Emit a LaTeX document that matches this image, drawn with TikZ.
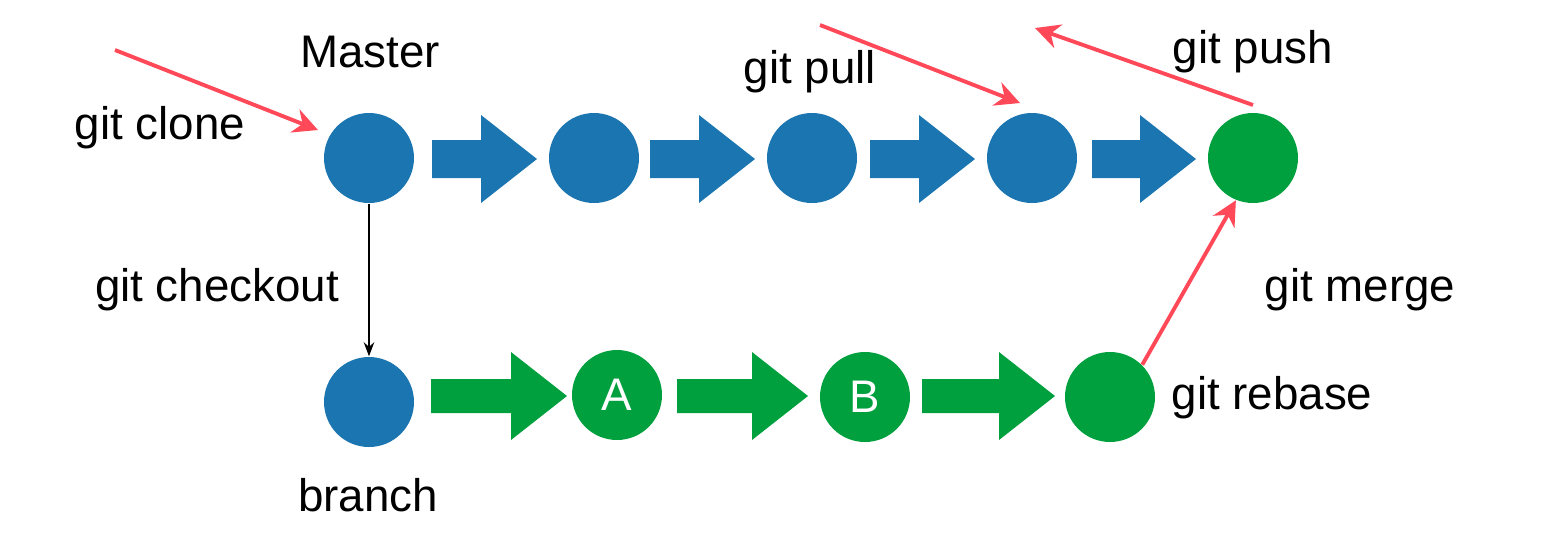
\documentclass[tikz,border=0pt]{standalone}
\usepackage{fontspec}
\setmainfont{Liberation Sans}
\usetikzlibrary{arrows.meta}
\definecolor{gblue}{RGB}{27,117,176}
\definecolor{ggreen}{RGB}{0,160,62}
\definecolor{gred}{RGB}{255,72,88}

% block arrow: x start, x end, y, colour, shaft half height
\newcommand{\blockarrow}[5]{%
  \fill[#4] (#1,#3-#5) -- (#2-0.56,#3-#5) -- (#2-0.56,#3-0.44) -- (#2,#3)
    -- (#2-0.56,#3+0.44) -- (#2-0.56,#3+#5) -- (#1,#3+#5) -- cycle;}

\begin{document}
\begin{tikzpicture}[
  commit/.style={circle,minimum size=0.9cm,inner sep=0pt,text=white,font=\fontsize{13}{15}\selectfont},
  lbl/.style={font=\fontsize{13}{15}\selectfont},
  redarrow/.style={draw=gred,line width=1.1pt,-{Stealth[length=7pt,width=7pt]}}
]
\useasboundingbox (0,0) rectangle (15.52,5.47);

% master commits
\node[commit,fill=gblue] (m1) at (3.69,3.89) {};
\node[commit,fill=gblue] (m2) at (5.94,3.89) {};
\node[commit,fill=gblue] (m3) at (8.12,3.89) {};
\node[commit,fill=gblue] (m4) at (10.32,3.89) {};
\node[commit,fill=ggreen] (m5) at (12.53,3.89) {};

% branch commits
\node[commit,fill=gblue] (b0) at (3.69,1.45) {};
\node[commit,fill=ggreen] (ba) at (6.17,1.52) {A};
\node[commit,fill=ggreen] (bb) at (8.65,1.50) {B};
\node[commit,fill=ggreen] (bc) at (11.10,1.50) {};

% big arrows
\blockarrow{4.32}{5.37}{3.88}{gblue}{0.19}
\blockarrow{6.50}{7.55}{3.88}{gblue}{0.19}
\blockarrow{8.70}{9.75}{3.88}{gblue}{0.19}
\blockarrow{10.92}{11.96}{3.88}{gblue}{0.19}
\blockarrow{4.31}{5.67}{1.51}{ggreen}{0.17}
\blockarrow{6.77}{8.08}{1.51}{ggreen}{0.17}
\blockarrow{9.22}{10.55}{1.51}{ggreen}{0.17}

% labels
\node[lbl] (master) at (3.70,4.95) {Master};
\node[lbl] (branch) at (3.68,0.52) {branch};
\node[lbl] (clone) at (1.60,4.19) {git clone};
\node[lbl] (pull) at (8.10,4.75) {git pull};
\node[lbl] (push) at (12.53,4.95) {git push};
\node[lbl] (checkout) at (2.17,2.57) {git checkout};
\node[lbl] (merge) at (13.60,2.57) {git merge};
\node[lbl] (rebase) at (12.72,1.49) {git rebase};

% red arrows
\coordinate (clonestart) at (1.15,4.97);
\coordinate (cloneend) at (3.18,4.17);
\coordinate (pullstart) at (8.20,5.22);
\coordinate (pullend) at (10.20,4.44);
\coordinate (pushstart) at (12.53,4.42);
\coordinate (pushend) at (10.35,5.19);
\draw[redarrow] (clonestart) -- (cloneend);
\draw[redarrow] (pullstart) -- (pullend);
\draw[redarrow] (pushstart) -- (pushend);
\draw[redarrow] (bc.45) -- (m5.-112);

% checkout
\draw[-{Stealth[length=4pt,width=3pt]},thin] (m1.south) -- (b0.north);

\end{tikzpicture}
\end{document}
